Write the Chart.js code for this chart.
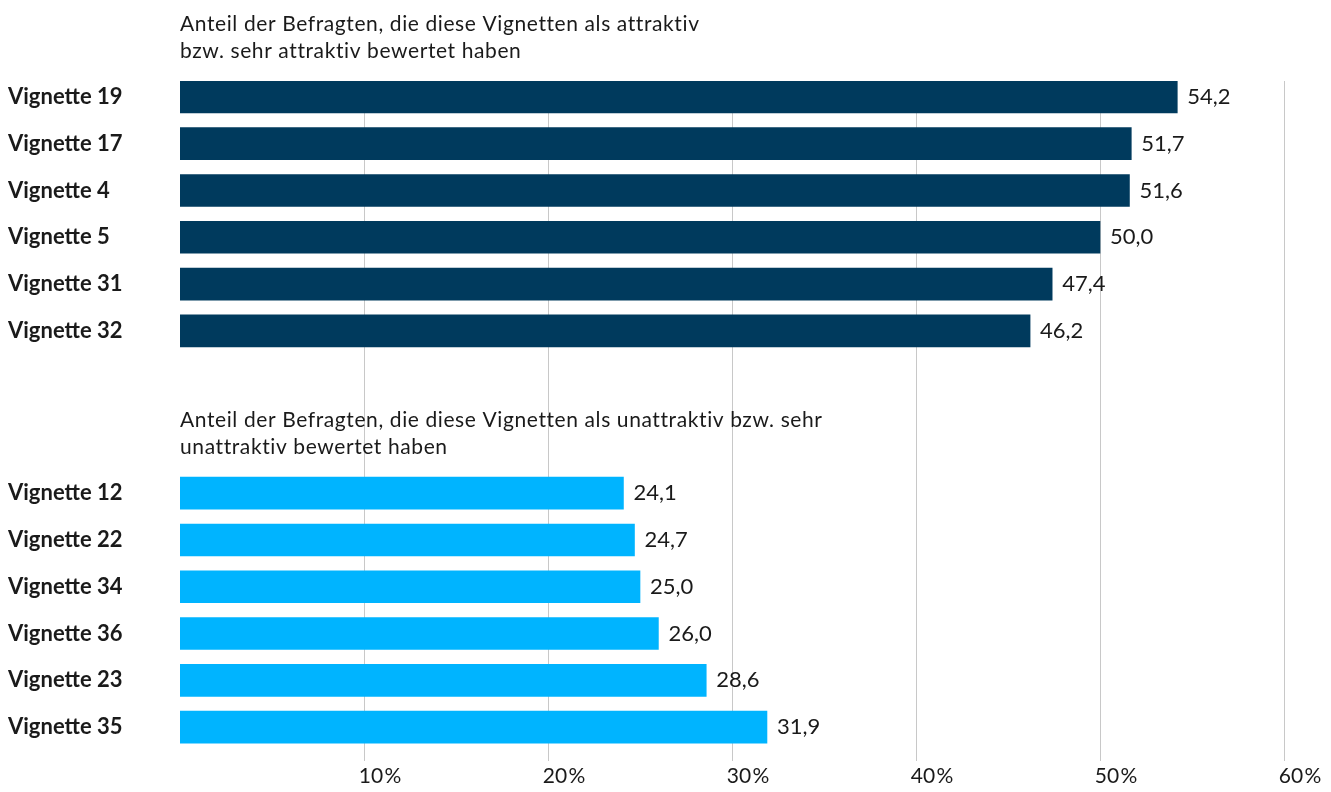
<!DOCTYPE html>
<html lang="de">
<head>
  <meta charset="UTF-8">
  <title>Vignetten – Bewertung</title>
  <script src="https://cdn.jsdelivr.net/npm/chart.js"></script>
  <style>
    body { margin: 0; background: #fff; }
    #box { width: 1331px; height: 792px; position: relative; }
  </style>
</head>
<body>
<div id="box"><canvas id="vignettenChart"></canvas></div>

<script>
// Daten: attraktiv (oben) und unattraktiv (unten)
const labelsOben = ['Vignette 19', 'Vignette 17', 'Vignette 4', 'Vignette 5', 'Vignette 31', 'Vignette 32'];
const werteOben = [54.2, 51.7, 51.6, 50.0, 47.4, 46.2];
const labelsUnten = ['Vignette 12', 'Vignette 22', 'Vignette 34', 'Vignette 36', 'Vignette 23', 'Vignette 35'];
const werteUnten = [24.1, 24.7, 25.0, 26.0, 28.6, 31.9];
const xTicks = [10, 20, 30, 40, 50, 60];
const titelOben = ['Anteil der Befragten, die diese Vignetten als attraktiv', 'bzw. sehr attraktiv bewertet haben'];
const titelUnten = ['Anteil der Befragten, die diese Vignetten als unattraktiv bzw. sehr', 'unattraktiv bewertet haben'];

const farbeOben = '#003a5d';
const farbeUnten = '#00b4ff';
const abstand = 3.47; // Abstand (in Zeilen) zwischen beiden Gruppen

// Positionen auf der y-Achse (Zeilenindex)
const posOben = labelsOben.map((l, i) => i);
const posUnten = labelsUnten.map((l, i) => labelsOben.length - 1 + abstand + i);
const alleLabels = labelsOben.concat(labelsUnten);
const alleWerte = werteOben.concat(werteUnten);
const allePos = posOben.concat(posUnten);

Chart.defaults.font.family = 'Lato';
Chart.defaults.color = '#1a1a1a';

// Plugin: Werte neben den Balken und Zwischenüberschriften
const beschriftung = {
  id: 'beschriftung',
  afterDatasetsDraw(chart) {
    const ctx = chart.ctx;
    const meta = chart.getDatasetMeta(0);
    ctx.save();
    ctx.fillStyle = '#1a1a1a';
    ctx.textAlign = 'left';
    ctx.textBaseline = 'middle';
    ctx.font = '22px Lato';
    meta.data.forEach((bar, i) => {
      ctx.fillText(alleWerte[i].toFixed(1).replace('.', ','), bar.x + 10, bar.y);
    });
    const yScale = chart.scales.y;
    const left = chart.chartArea.left;
    ctx.font = '21px Lato';
    ctx.letterSpacing = '0.6px';
    [[posOben[0], titelOben], [posUnten[0], titelUnten]].forEach(([p, zeilen]) => {
      const yc = yScale.getPixelForValue(p);
      zeilen.forEach((z, k) => ctx.fillText(z, left, yc - 73 + k * 27));
    });
    ctx.restore();
  }
};

new Chart(document.getElementById('vignettenChart'), {
  type: 'bar',
  data: {
    datasets: [{
      data: alleWerte.map((v, i) => ({ x: v, y: allePos[i] })),
      backgroundColor: alleWerte.map((v, i) => i < werteOben.length ? farbeOben : farbeUnten),
      barThickness: 32
    }]
  },
  options: {
    indexAxis: 'y',
    responsive: true,
    maintainAspectRatio: false,
    animation: false,
    layout: { padding: { top: 81, right: 47, bottom: 0, left: 8 } },
    plugins: { legend: { display: false }, tooltip: { enabled: false } },
    scales: {
      x: {
        type: 'linear',
        min: 0,
        max: 60,
        afterBuildTicks: axis => { axis.ticks = xTicks.map(v => ({ value: v })); },
        grid: { color: '#c8c8c8', lineWidth: 1, drawTicks: false },
        border: { display: false },
        ticks: {
          font: { size: 21 },
          padding: 3,
          labelOffset: 16,
          maxRotation: 0,
          callback: v => v + '\u200A%'
        }
      },
      y: {
        type: 'linear',
        offset: false,
        reverse: true,
        min: -0.34,
        max: 14.19,
        afterBuildTicks: axis => { axis.ticks = allePos.map(v => ({ value: v })); },
        afterFit: axis => { axis.width = 172; },
        grid: { display: false },
        border: { display: false },
        ticks: {
          autoSkip: false,
          crossAlign: 'far',
          font: { size: 22, weight: 'bold' },
          callback: (v, i) => alleLabels[i]
        }
      }
    }
  },
  plugins: [beschriftung]
});
</script>
</body>
</html>
